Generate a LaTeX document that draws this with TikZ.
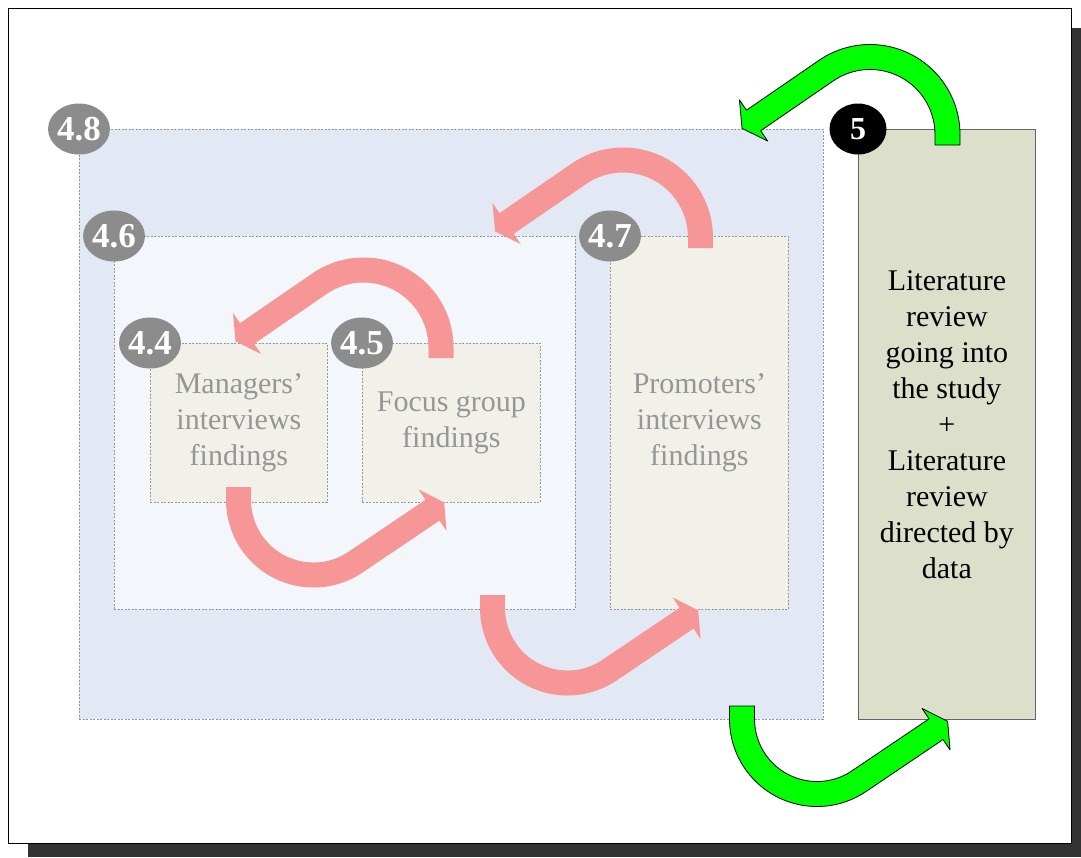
\documentclass[tikz,border=0pt]{standalone}
\usepackage{fontspec}
\setmainfont{Liberation Serif}
\usetikzlibrary{shapes.geometric}
\definecolor{shadowc}{RGB}{51,51,51}
\definecolor{bgblue}{RGB}{226,232,244}
\definecolor{paleblue}{RGB}{243,246,251}
\definecolor{palebeige}{RGB}{241,241,233}
\definecolor{olivebox}{RGB}{220,224,203}
\definecolor{olivedraw}{RGB}{100,100,100}
\definecolor{arrowgreen}{RGB}{0,255,0}
\definecolor{arrowpink}{RGB}{246,150,150}
\definecolor{fadetext}{RGB}{150,150,150}
\definecolor{fadeline}{RGB}{150,150,150}
\definecolor{badgegray}{RGB}{140,140,140}

\def\bAw{25}\def\bAhw{25}\def\bAhl{14}
% #1 cx, #2 cy, #3 r, #4 start angle, #5 end angle, #6 lead-in length, #7 lead-out length, #8 style
\newcommand\bArrow[8]{%
  \pgfmathsetmacro\bAs{sign((#5)-(#4))}%
  \pgfmathsetmacro\bAh{\bAw/2}%
  \pgfmathsetmacro\bARo{#3+\bAh}%
  \pgfmathsetmacro\bARi{#3-\bAh}%
  \pgfmathsetmacro\bAnx{cos(#4)}%
  \pgfmathsetmacro\bAny{sin(#4)}%
  \pgfmathsetmacro\bAmx{cos(#5)}%
  \pgfmathsetmacro\bAmy{sin(#5)}%
  \pgfmathsetmacro\bASx{#1+#3*(\bAnx)+(#6)*(\bAs)*(\bAny)}%
  \pgfmathsetmacro\bASy{#2+#3*(\bAny)-(#6)*(\bAs)*(\bAnx)}%
  \pgfmathsetmacro\bATx{-1*(\bAs)*(\bAmy)}%
  \pgfmathsetmacro\bATy{(\bAs)*(\bAmx)}%
  \pgfmathsetmacro\bABx{#1+#3*(\bAmx)+(#7)*(\bATx)}%
  \pgfmathsetmacro\bABy{#2+#3*(\bAmy)+(#7)*(\bATy)}%
  \path[#8] ({\bASx+\bAh*(\bAnx)},{\bASy+\bAh*(\bAny)})
    -- ({#1+\bARo*(\bAnx)},{#2+\bARo*(\bAny)})
    arc[start angle=#4,end angle=#5,radius=\bARo]
    -- ({\bABx+\bAh*(\bAmx)},{\bABy+\bAh*(\bAmy)})
    -- ({\bABx+\bAhw*(\bAmx)},{\bABy+\bAhw*(\bAmy)})
    -- ({\bABx+\bAhl*(\bATx)},{\bABy+\bAhl*(\bATy)})
    -- ({\bABx-\bAhw*(\bAmx)},{\bABy-\bAhw*(\bAmy)})
    -- ({\bABx-\bAh*(\bAmx)},{\bABy-\bAh*(\bAmy)})
    -- ({#1+\bARi*(\bAmx)},{#2+\bARi*(\bAmy)})
    arc[start angle=#5,end angle=#4,radius=\bARi]
    -- ({\bASx-\bAh*(\bAnx)},{\bASy-\bAh*(\bAny)})
    -- cycle;
}

\begin{document}
\begin{tikzpicture}[x=1pt,y=-1pt,
  fadebox/.style={draw=fadeline,line width=0.8pt,dash pattern=on 2pt off 1.5pt,
    anchor=north west,inner sep=0pt,align=center,text=fadetext,
    font=\fontsize{30}{36}\selectfont},
  badge/.style={ellipse,fill=badgegray,text=white,inner sep=0pt,
    minimum width=57pt,minimum height=51pt,
    font=\fontsize{35}{35}\selectfont\bfseries},
  greenarrow/.style={fill=arrowgreen,draw=black,line width=0.8pt,line join=round},
  pinkarrow/.style={fill=arrowpink}]
\useasboundingbox (0,0) rectangle (1081,857);
% frame with shadow
\fill[shadowc] (28,28) rectangle (1081,857);
\draw[fill=white,line width=0.8pt] (8,8) rectangle (1071,843);

% boxes
\node[fadebox,fill=bgblue,minimum width=744pt,minimum height=590pt] (b48) at (79,129) {};
\node[fadebox,fill=paleblue,minimum width=461pt,minimum height=373pt] (b46) at (114,236) {};
\node[fadebox,fill=palebeige,minimum width=178pt,minimum height=373pt] (b47) at (610,236)
  {Promoters’\\interviews\\findings};
\node[fadebox,fill=palebeige,minimum width=177pt,minimum height=159pt] (b44) at (150,343)
  {Managers’\\interviews\\findings};
\node[fadebox,fill=palebeige,minimum width=178pt,minimum height=159pt] (b45) at (362,343)
  {Focus group\\findings};
\node[draw=olivedraw,fill=olivebox,line width=0.8pt,anchor=north west,inner sep=0pt,
  minimum width=177pt,minimum height=590pt,align=center,
  font=\fontsize{30}{36}\selectfont] (b5) at (858,129)
  {Literature\\review\\going into\\the study\\+\\Literature\\review\\directed by\\data};

% pink arrows
\bArrow{623}{237.5}{77.5}{0}{-124.5}{10.5}{88}{pinkarrow}
\bArrow{363.5}{347.5}{77.5}{0}{-124.5}{10.5}{88}{pinkarrow}
\bArrow{313.5}{500}{75}{180}{56}{13}{93}{pinkarrow}
\bArrow{567.5}{608}{75}{180}{56}{13}{93}{pinkarrow}

% green arrows
\bArrow{870}{134.5}{77.5}{0}{-124.5}{10.5}{88}{greenarrow}
\bArrow{817}{719}{75}{180}{56}{13}{93}{greenarrow}

% badges
\node[badge] (n48) at (b48.north west) {4.8};
\node[badge] (n46) at (b46.north west) {4.6};
\node[badge] (n47) at (b47.north west) {4.7};
\node[badge] (n44) at (b44.north west) {4.4};
\node[badge] (n45) at (b45.north west) {4.5};
\node[badge,fill=black,font=\fontsize{32}{32}\selectfont\bfseries] (n5) at (b5.north west) {5};
\end{tikzpicture}
\end{document}
